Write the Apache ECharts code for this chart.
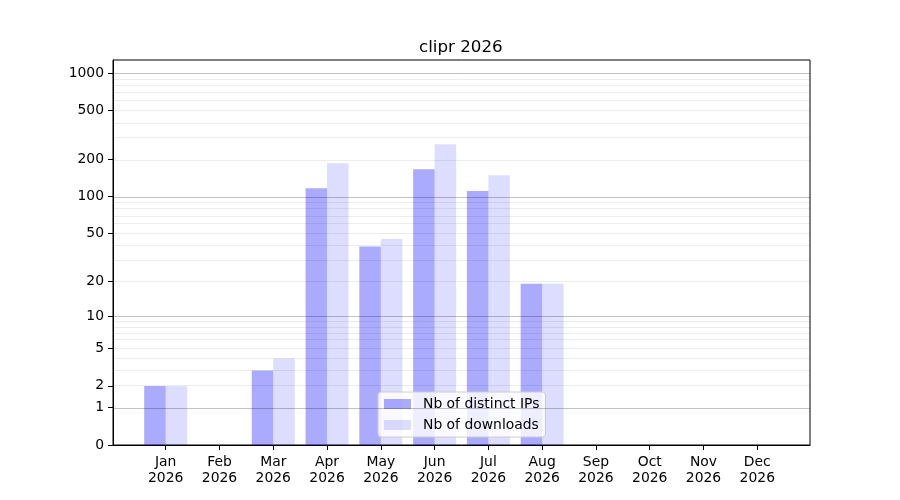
<!DOCTYPE html>
<html>
<head>
<meta charset="utf-8">
<script src="https://cdn.jsdelivr.net/npm/echarts@6/dist/echarts.min.js"></script>
<style>html,body{margin:0;padding:0;background:#fff}#c{width:900px;height:500px}</style>
</head>
<body>
<div id="c"></div>
<script>
const months = ['Jan','Feb','Mar','Apr','May','Jun','Jul','Aug','Sep','Oct','Nov','Dec'];
const yearLabel = '2026';
const distinctIPs = [2, 0, 3, 117, 39, 167, 111, 19, 0, 0, 0, 0];
const downloads   = [2, 0, 4, 187, 45, 266, 149, 19, 0, 0, 0, 0];
const yTickValues = [0, 1, 2, 5, 10, 20, 50, 100, 200, 500, 1000];
const majorGrid = [1, 10, 100, 1000];
const minorGrid = [2,3,4,5,6,7,8,9,20,30,40,50,60,70,80,90,200,300,400,500,600,700,800,900];

const tf = v => Math.log10(v + 1);
const inv = t => Math.round(Math.pow(10, t) - 1);

const chart = echarts.init(document.getElementById('c'), null, {renderer: 'canvas'});
const FONT = 'DejaVu Sans';
const gridLines = [];
minorGrid.forEach(v => gridLines.push({yAxis: tf(v), lineStyle: {color: 'rgba(0,0,0,0.075)', width: 1, type: 'solid'}}));
majorGrid.forEach(v => gridLines.push({yAxis: tf(v), lineStyle: {color: 'rgba(0,0,0,0.24)', width: 1, type: 'solid'}}));

chart.setOption({
  animation: false,
  textStyle: {fontFamily: FONT},
  title: {
    text: 'clipr 2026', left: 414, top: 34,
    textStyle: {fontFamily: FONT, fontSize: 16.7, fontWeight: 'normal', color: '#000'}
  },
  grid: {left: 113, right: 90, top: 60, bottom: 55, show: true, borderColor: '#000', borderWidth: 1, backgroundColor: 'transparent'},
  legend: {
    orient: 'vertical', left: 378, top: 392,
    padding: [4, 6, 4, 6], itemGap: 5, itemWidth: 27, itemHeight: 10,
    backgroundColor: 'rgba(255,255,255,0.8)', borderColor: '#cccccc', borderWidth: 1, borderRadius: 3,
    icon: 'rect',
    textStyle: {fontFamily: FONT, fontSize: 13.9, color: '#000', lineHeight: 16, padding: [0, 0, 0, 7]},
    data: ['Nb of distinct IPs', 'Nb of downloads']
  },
  xAxis: {
    type: 'value', min: -0.98, max: 11.98,
    axisLine: {show: true, onZero: false, lineStyle: {color: '#000'}},
    axisTick: {show: true, customValues: months.map((m, i) => i), length: 5, lineStyle: {color: '#000'}},
    axisLabel: {
      customValues: months.map((m, i) => i), margin: 9,
      formatter: v => months[Math.round(v)] + '\n' + yearLabel,
      fontFamily: FONT, fontSize: 13.9, color: '#000', lineHeight: 16
    },
    splitLine: {show: false}
  },
  yAxis: {
    type: 'value', min: 0, max: 3.107,
    axisLine: {show: true, onZero: false, lineStyle: {color: '#000'}},
    axisTick: {show: true, customValues: yTickValues.map(tf), length: 5, lineStyle: {color: '#000'}},
    axisLabel: {
      customValues: yTickValues.map(tf), margin: 9,
      formatter: v => String(inv(v)),
      fontFamily: FONT, fontSize: 13.9, color: '#000', padding: [2, 0, 0, 0]
    },
    splitLine: {show: false}
  },
  series: [
    {
      name: 'Nb of distinct IPs', type: 'bar', barWidth: 21.5, barGap: '0%',
      itemStyle: {color: 'rgba(0,0,255,0.333)'},
      data: distinctIPs.map((v, i) => [i, tf(v)]),
      markLine: {silent: true, symbol: 'none', label: {show: false}, animation: false, data: gridLines}
    },
    {
      name: 'Nb of downloads', type: 'bar', barWidth: 21.5, barGap: '0%',
      itemStyle: {color: 'rgba(0,0,255,0.133)'},
      data: downloads.map((v, i) => [i, tf(v)])
    }
  ]
});
</script>
</body>
</html>
